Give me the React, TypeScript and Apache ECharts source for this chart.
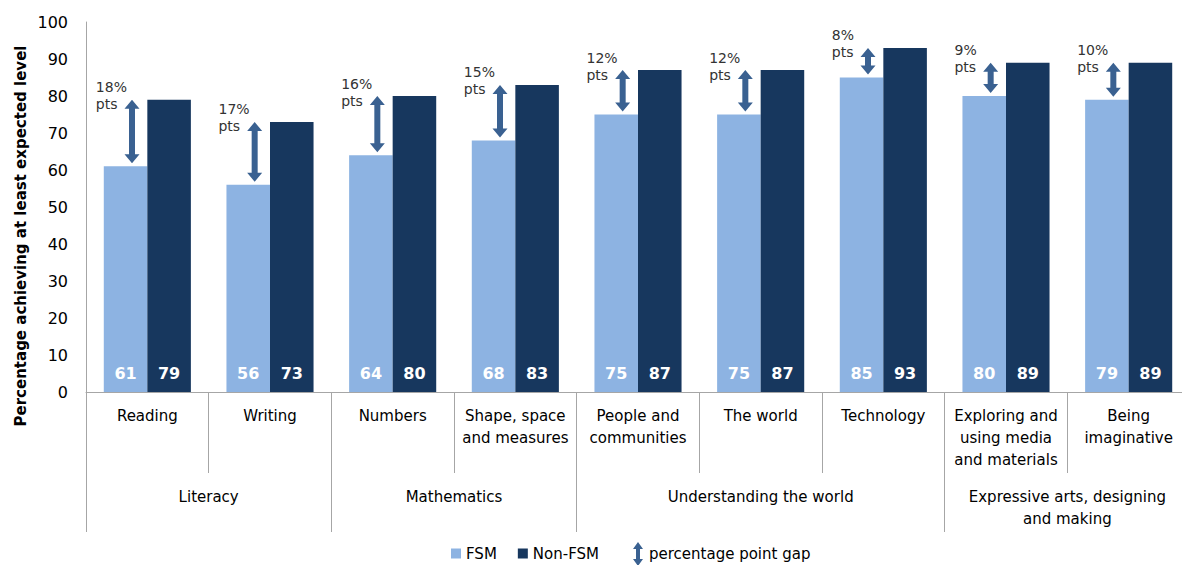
import React, { useEffect, useRef } from "react";
import * as echarts from "echarts";

const categories = [
  "Reading",
  "Writing",
  "Numbers",
  "Shape, space\nand measures",
  "People and\ncommunities",
  "The world",
  "Technology",
  "Exploring and\nusing media\nand materials",
  "Being\nimaginative",
];
const fsm = [61, 56, 64, 68, 75, 75, 85, 80, 79];
const nonFsm = [79, 73, 80, 83, 87, 87, 93, 89, 89];
const gapLabels = ["18%", "17%", "16%", "15%", "12%", "12%", "8%", "9%", "10%"];
const groups = ["Literacy", "Mathematics", "Understanding the world", "Expressive arts, designing\nand making"];
const groupSizes = [2, 2, 3, 2];
const yTicks = { min: 0, max: 100, interval: 10 };

const FONT = "DejaVu Sans";
const C_FSM = "#8DB3E2";
const C_NON = "#17375E";
const C_ARROW = "#3A6191";
const C_AXIS = "#A6A6A6";

export default function App() {
  const ref = useRef<HTMLDivElement>(null);
  useEffect(() => {
    if (!ref.current) return;
    const chart = echarts.init(ref.current, undefined, { renderer: "svg" });

    const bounds: number[] = [0];
    const centers: number[] = [];
    let acc = 0;
    groupSizes.forEach((s) => {
      centers.push(acc + s / 2);
      acc += s;
      bounds.push(acc);
    });

    const arrowData = categories.map((_, i) => [i, fsm[i], nonFsm[i], gapLabels[i]]);

    chart.setOption({
      animation: false,
      grid: { left: 86, top: 22, bottom: 173, right: 10, containLabel: false },
      textStyle: { fontFamily: FONT },
      legend: [
        {
          data: ["FSM", "Non-FSM"],
          left: 446,
          top: 541,
          icon: "rect",
          itemWidth: 10,
          itemHeight: 10,
          itemGap: 21,
          textStyle: { fontSize: 15, color: "#000", fontFamily: FONT },
        },
        {
          data: [
            {
              name: "percentage point gap",
              icon: "path://M5,0 L10,7 L7,7 L7,17 L10,17 L5,24 L0,17 L3,17 L3,7 L0,7 Z",
            },
          ],
          left: 628,
          top: 537,
          itemWidth: 12,
          itemHeight: 24,
          textStyle: { fontSize: 15, color: "#000", fontFamily: FONT },
        },
      ],
      xAxis: [
        {
          type: "category",
          data: categories,
          axisLine: { show: true, lineStyle: { color: C_AXIS, width: 1 } },
          axisTick: { show: true, interval: 0, length: 81, lineStyle: { color: C_AXIS } },
          axisLabel: {
            interval: 0,
            margin: 13,
            fontSize: 15,
            lineHeight: 22,
            color: "#000",
            fontFamily: FONT,
          },
        },
        {
          type: "value",
          min: 0,
          max: categories.length,
          position: "bottom",
          axisLine: { show: false },
          splitLine: { show: false },
          axisTick: { show: true, customValues: bounds, length: 140, lineStyle: { color: C_AXIS } },
          axisLabel: {
            customValues: centers,
            margin: 94,
            fontSize: 15,
            lineHeight: 22,
            color: "#000",
            fontFamily: FONT,
            formatter: (v: number) => {
              const idx = centers.findIndex((c) => Math.abs(c - v) < 1e-6);
              return idx >= 0 ? groups[idx] : "";
            },
          },
        },
      ],
      yAxis: {
        type: "value",
        min: yTicks.min,
        max: yTicks.max,
        interval: yTicks.interval,
        axisLine: { show: true, lineStyle: { color: C_AXIS } },
        axisTick: { show: false },
        splitLine: { show: false },
        axisLabel: { fontSize: 16, margin: 18, color: "#000", fontFamily: FONT },
      },
      graphic: [
        {
          type: "text",
          x: 21,
          y: 236,
          rotation: Math.PI / 2,
          style: {
            text: "Percentage achieving at least expected level",
            font: `bold 15px "${FONT}"`,
            fill: "#000",
            align: "center",
            verticalAlign: "middle",
          },
        },
      ],
      series: [
        {
          name: "FSM",
          type: "bar",
          data: fsm,
          barWidth: "35.5%",
          barGap: "0%",
          itemStyle: { color: C_FSM },
          label: {
            show: true,
            position: "insideBottom",
            distance: 11,
            color: "#fff",
            fontWeight: "bold",
            fontSize: 16,
            fontFamily: FONT,
          },
        },
        {
          name: "Non-FSM",
          type: "bar",
          data: nonFsm,
          barWidth: "35.5%",
          barGap: "0%",
          itemStyle: { color: C_NON },
          label: {
            show: true,
            position: "insideBottom",
            distance: 11,
            color: "#fff",
            fontWeight: "bold",
            fontSize: 16,
            fontFamily: FONT,
          },
        },
        {
          name: "percentage point gap",
          type: "custom",
          itemStyle: { color: C_ARROW },
          data: arrowData,
          encode: { x: 0, y: [1, 2] },
          z: 5,
          renderItem: (params: any, api: any) => {
            const idx = api.value(0);
            const top = api.coord([idx, api.value(2)]);
            const bot = api.coord([idx, api.value(1)]);
            const bw = api.size([1, 0])[0];
            const x = top[0] - 0.125 * bw;
            const yT = top[1];
            const yB = bot[1] - 3;
            const sw = 3;
            const hw = 7.5;
            const hl = 9;
            const label = gapLabels[params.dataIndex];
            return {
              type: "group",
              children: [
                {
                  type: "polygon",
                  shape: {
                    points: [
                      [x, yT],
                      [x + hw, yT + hl],
                      [x + sw, yT + hl],
                      [x + sw, yB - hl],
                      [x + hw, yB - hl],
                      [x, yB],
                      [x - hw, yB - hl],
                      [x - sw, yB - hl],
                      [x - sw, yT + hl],
                      [x - hw, yT + hl],
                    ],
                  },
                  style: { fill: C_ARROW },
                },
                {
                  type: "text",
                  x: top[0] - 0.42 * bw,
                  y: yT - 21,
                  style: {
                    text: label + "\npts",
                    font: `14px "${FONT}"`,
                    lineHeight: 17,
                    fill: "#333",
                    align: "left",
                    verticalAlign: "top",
                  },
                },
              ],
            };
          },
        },
      ],
    });
    return () => chart.dispose();
  }, []);

  return (
    <div style={{ position: "fixed", left: 0, top: 0, width: 1182, height: 565, overflow: "hidden", background: "#fff" }}>
      <div ref={ref} style={{ width: 1200, height: 565 }} />
    </div>
  );
}
